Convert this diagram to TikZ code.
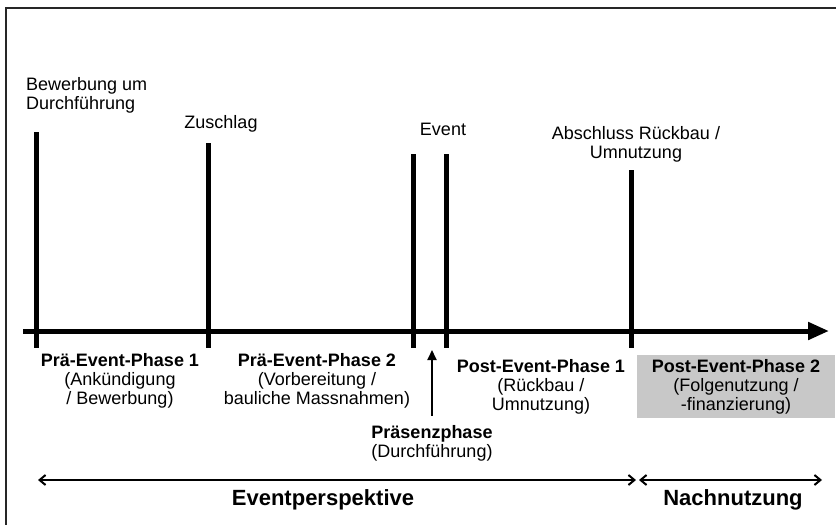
\documentclass[tikz,border=0pt]{standalone}
\usepackage{fontspec}
\setmainfont{Liberation Sans}
\usetikzlibrary{arrows.meta}
\definecolor{boxgray}{RGB}{200,200,200}
\begin{document}
\begin{tikzpicture}[x=1pt,y=-1pt,
  lbl/.style={font=\fontsize{18}{19}\selectfont, inner sep=0pt, align=center},
  big/.style={font=\fontsize{22}{24}\selectfont\bfseries, inner sep=0pt},
  bar/.style={line width=5pt},
  axisline/.style={line width=5pt, -{Triangle[length=21pt,width=17pt]}},
  span/.style={line width=2pt, {Straight Barb[length=6pt,width=10pt]}-{Straight Barb[length=6pt,width=10pt]}},
  pointer/.style={line width=2pt, -{Triangle[length=10pt,width=9pt]}}]
\useasboundingbox (0,0) rectangle (836,525);
\clip (0,0) rectangle (836,525);
\draw[line width=2pt, black!85] (6,8) rectangle (850,540);

% gray box
\node[lbl, fill=boxgray, minimum width=198pt, minimum height=63pt] (p4) at (736,386.5)
  {\textbf{Post-Event-Phase 2}\\(Folgenutzung /\\-finanzierung)};

% axis
\coordinate (axs) at (23,331);
\coordinate (axe) at (829,331);
\draw[axisline] (axs) -- (axe);

% bars
\coordinate (b1t) at (36.7,132); \coordinate (b1b) at (36.7,348);
\coordinate (b2t) at (208,143);  \coordinate (b2b) at (208,348);
\coordinate (b3t) at (413,154);  \coordinate (b3b) at (413,348);
\coordinate (b4t) at (446,154);  \coordinate (b4b) at (446,348);
\coordinate (b5t) at (631,170);  \coordinate (b5b) at (631,348);
\draw[bar] (b1t) -- (b1b);
\draw[bar] (b2t) -- (b2b);
\draw[bar] (b3t) -- (b3b);
\draw[bar] (b4t) -- (b4b);
\draw[bar] (b5t) -- (b5b);

% top labels
\node[lbl, anchor=west, align=left] (t1) at (26,95) {Bewerbung um\\Durchführung};
\node[lbl] (t2) at (221,124) {Zuschlag};
\node[lbl] (t3) at (443,129) {Event};
\node[lbl] (t4) at (636,144.5) {Abschluss Rückbau /\\Umnutzung};

% phase labels
\node[lbl] (p1) at (120,381) {\textbf{Prä-Event-Phase 1}\\(Ankündigung\\/ Bewerbung)};
\node[lbl] (p2) at (317,381) {\textbf{Prä-Event-Phase 2}\\(Vorbereitung /\\bauliche Massnahmen)};
\node[lbl] (p3) at (541,387) {\textbf{Post-Event-Phase 1}\\(Rückbau /\\Umnutzung)};

% Praesenzphase
\node[lbl] (pr) at (432,443) {\textbf{Präsenzphase}\\(Durchführung)};
\coordinate (prtip) at (432,350);
\draw[pointer, shorten <=9pt] (pr.north) -- (prtip);

% bottom spans
\coordinate (s1a) at (38,480);
\coordinate (s1b) at (636,480);
\coordinate (s2a) at (639,480);
\coordinate (s2b) at (822,480);
\draw[span] (s1a) -- (s1b);
\draw[span] (s2a) -- (s2b);
\node[big] (ep) at (323,500) {Eventperspektive};
\node[big] (nn) at (733,500) {Nachnutzung};
\end{tikzpicture}
\end{document}
